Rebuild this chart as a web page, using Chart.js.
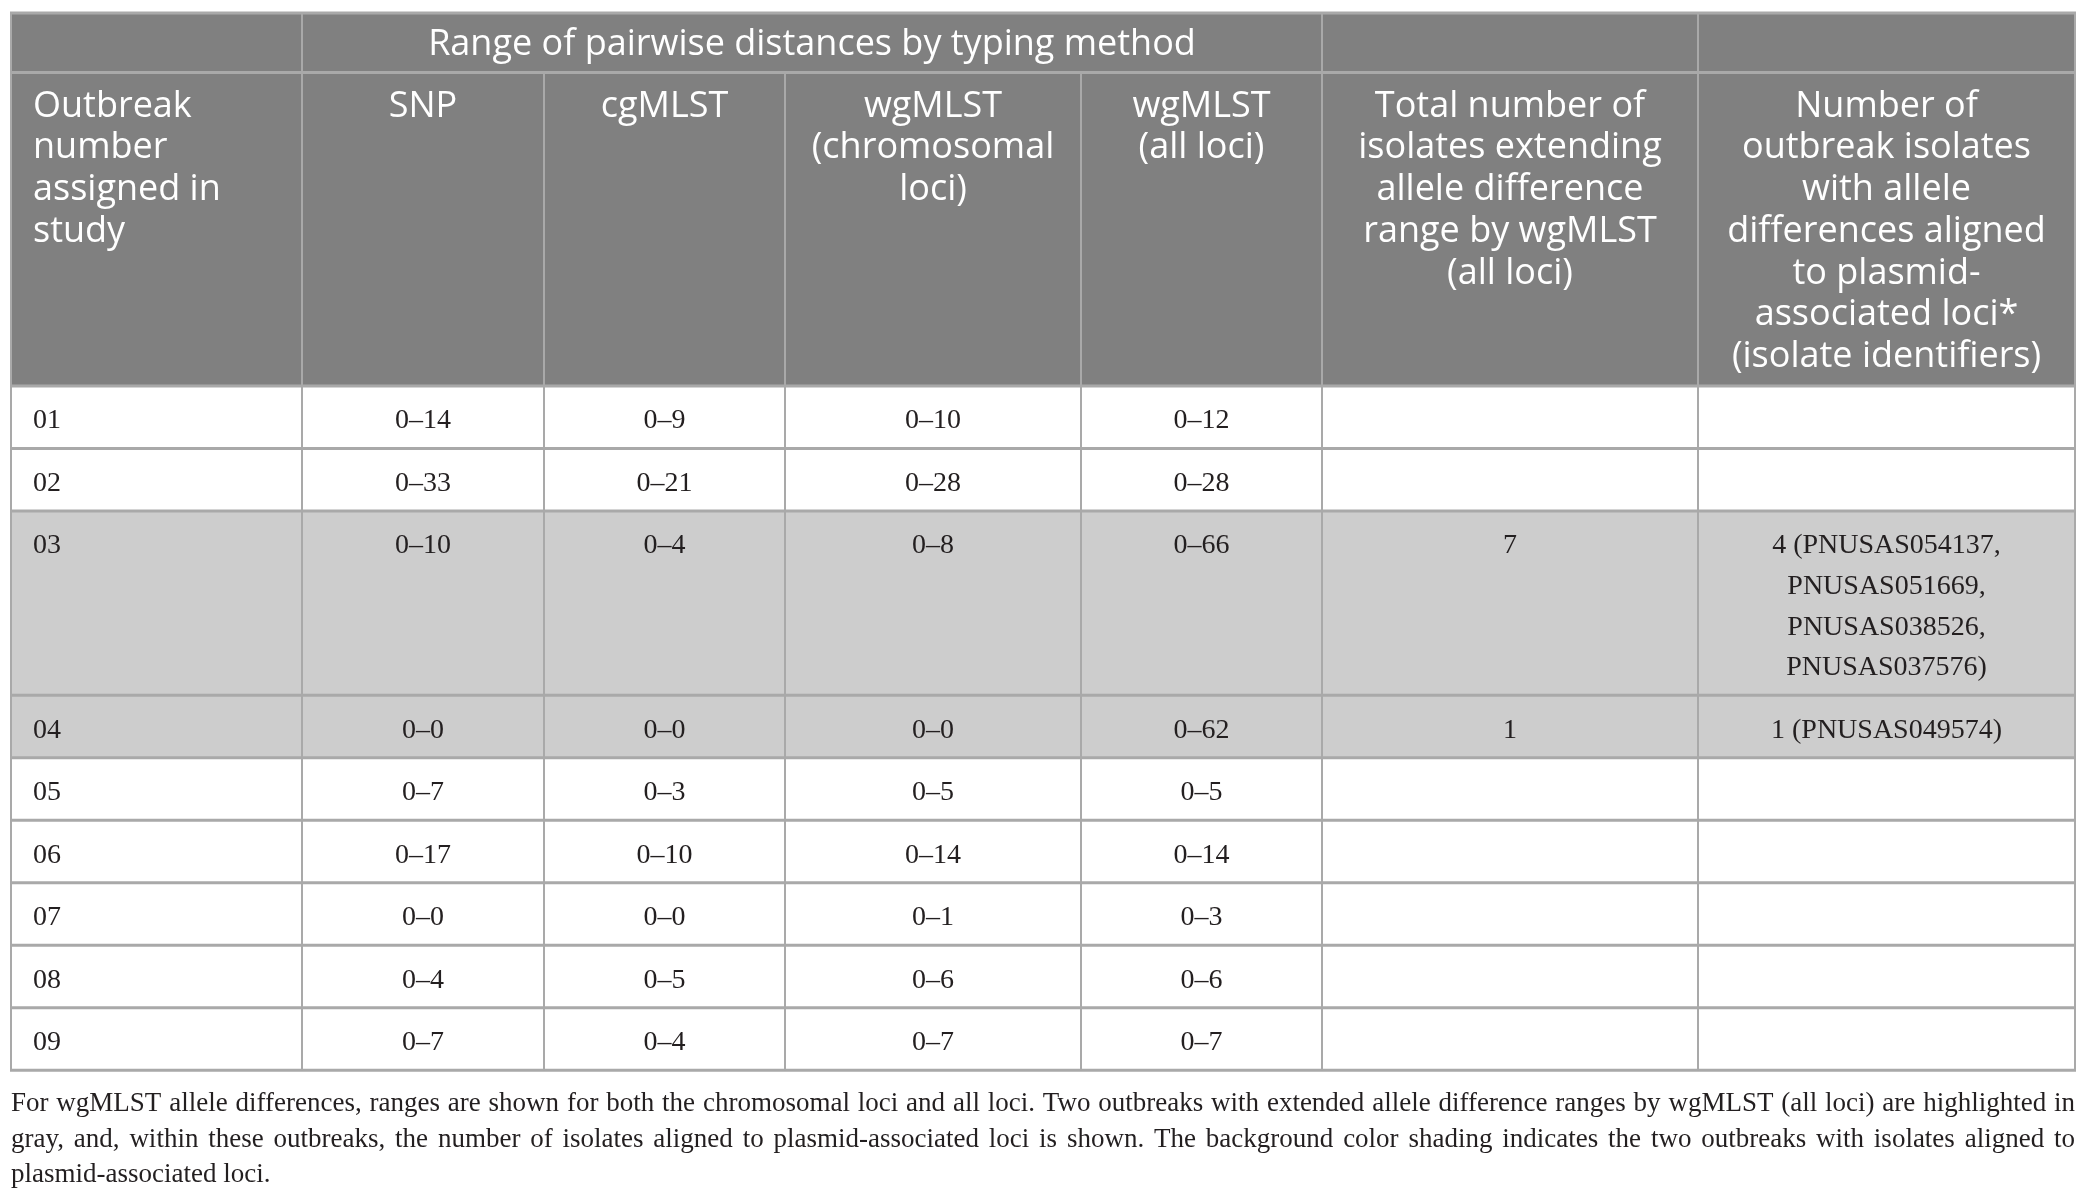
<!DOCTYPE html>
<html><head><meta charset="utf-8">
<script src="https://cdn.jsdelivr.net/npm/chart.js@4.4.1/dist/chart.umd.min.js"></script>
<style>html,body{margin:0;padding:0;background:#fff;overflow:hidden}canvas{display:block}</style>
</head><body>
<canvas id="c" width="2087" height="1204"></canvas>
<script>
// ---------- DATA ----------
const groupHeader = 'Range of pairwise distances by typing method';
const groupSpan = [1, 4, 1, 1];
const columnHeaders = [
  ['Outbreak', 'number', 'assigned in', 'study'],
  ['SNP'],
  ['cgMLST'],
  ['wgMLST', '(chromosomal', 'loci)'],
  ['wgMLST', '(all loci)'],
  ['Total number of', 'isolates extending', 'allele difference', 'range by wgMLST', '(all loci)'],
  ['Number of', 'outbreak isolates', 'with allele', 'differences aligned', 'to plasmid-', 'associated loci*', '(isolate identifiers)']
];
const outbreakNumbers = ['01', '02', '03', '04', '05', '06', '07', '08', '09'];
const snpRange = ['0–14', '0–33', '0–10', '0–0', '0–7', '0–17', '0–0', '0–4', '0–7'];
const cgmlstRange = ['0–9', '0–21', '0–4', '0–0', '0–3', '0–10', '0–0', '0–5', '0–4'];
const wgmlstChromRange = ['0–10', '0–28', '0–8', '0–0', '0–5', '0–14', '0–1', '0–6', '0–7'];
const wgmlstAllRange = ['0–12', '0–28', '0–66', '0–62', '0–5', '0–14', '0–3', '0–6', '0–7'];
const totalExtending = ['', '', '7', '1', '', '', '', '', ''];
const plasmidIsolates = [
  [], [],
  ['4 (PNUSAS054137,', 'PNUSAS051669,', 'PNUSAS038526,', 'PNUSAS037576)'],
  ['1 (PNUSAS049574)'],
  [], [], [], [], []
];
const footnoteLines = [
  'For wgMLST allele differences, ranges are shown for both the chromosomal loci and all loci. Two outbreaks with extended allele difference ranges by wgMLST (all loci) are highlighted in',
  'gray, and, within these outbreaks, the number of isolates aligned to plasmid-associated loci is shown. The background color shading indicates the two outbreaks with isolates aligned to',
  'plasmid-associated loci.'
];

// ---------- LAYOUT / STYLE ----------
const colWidths = [291, 242, 241, 296, 241, 376, 377];
const headTopH = 59.5, headH = 313.5, rowBaseH = 62.5, rowLineH = 40.6;
const headLineH = 41.7;
const headFont = '36px "Open Sans", "Noto Sans", sans-serif';
const bodyFont = '28px "Liberation Serif"';
const noteFont = '27px "Liberation Serif"';
const headBg = '#808080', shadeBg = '#cdcdcd', lineCol = '#a9a9a9';
const textCol = '#231f20';

const tableRows = outbreakNumbers.map((o, i) => [
  [o], [snpRange[i]], [cgmlstRange[i]], [wgmlstChromRange[i]], [wgmlstAllRange[i]],
  totalExtending[i] ? [totalExtending[i]] : [], plasmidIsolates[i]
]);
const rowHeights = tableRows.map(r => rowBaseH + (Math.max(1, ...r.map(c => c.length)) - 1) * rowLineH);
const totalW = colWidths.reduce((a, b) => a + b, 0);
const totalH = headTopH + headH + rowHeights.reduce((a, b) => a + b, 0);
const colEdges = colWidths.reduce((acc, w) => (acc.push(acc[acc.length - 1] + w), acc), [0]);

const tablePlugin = {
  id: 'tablePlugin',
  afterDraw(chart) {
    const ctx = chart.ctx, xs = chart.scales.x, ys = chart.scales.y;
    const px = v => xs.getPixelForValue(v), py = v => ys.getPixelForValue(v);
    ctx.save();
    ctx.fillStyle = headBg;
    ctx.fillRect(px(0), py(0), px(totalW) - px(0), py(headTopH + headH) - py(0));
    let y = headTopH + headH;
    const rowTops = [];
    tableRows.forEach((r, i) => {
      rowTops.push(y);
      if (totalExtending[i]) {
        ctx.fillStyle = shadeBg;
        ctx.fillRect(px(0), py(y), px(totalW) - px(0), py(y + rowHeights[i]) - py(y));
      }
      y += rowHeights[i];
    });
    ctx.strokeStyle = lineCol;
    const hline = (yv, w) => { ctx.lineWidth = w; ctx.beginPath(); ctx.moveTo(px(0) - 1, py(yv)); ctx.lineTo(px(totalW) + 1, py(yv)); ctx.stroke(); };
    const vline = (xv, y0, y1) => { ctx.lineWidth = 2; ctx.beginPath(); ctx.moveTo(px(xv), py(y0)); ctx.lineTo(px(xv), py(y1)); ctx.stroke(); };
    hline(0, 3);
    hline(headTopH, 3);
    hline(headTopH + headH, 3);
    rowTops.forEach((t, i) => { if (i > 0) hline(t, 3); });
    hline(totalH, 3);
    let ci = 0;
    vline(0, 0, totalH);
    groupSpan.forEach(s => { ci += s; vline(colEdges[ci], 0, headTopH); });
    for (let c = 1; c <= colWidths.length; c++) vline(colEdges[c], headTopH, totalH);
    // header text
    ctx.fillStyle = '#ffffff';
    ctx.font = headFont;
    ctx.textBaseline = 'middle';
    ctx.textAlign = 'center';
    ci = 0;
    groupSpan.forEach((s, k) => {
      if (k === 1) ctx.fillText(groupHeader, (px(colEdges[ci]) + px(colEdges[ci + s])) / 2, py(headTopH / 2 + 2));
      ci += s;
    });
    columnHeaders.forEach((lines, c) => {
      lines.forEach((ln, j) => {
        const yy = py(headTopH + 34 + j * headLineH);
        if (c === 0) { ctx.textAlign = 'left'; ctx.fillText(ln, px(colEdges[c] + 22), yy); }
        else { ctx.textAlign = 'center'; ctx.fillText(ln, (px(colEdges[c]) + px(colEdges[c + 1])) / 2, yy); }
      });
    });
    // body text
    ctx.fillStyle = textCol;
    ctx.font = bodyFont;
    tableRows.forEach((r, i) => {
      r.forEach((cell, c) => {
        cell.forEach((ln, j) => {
          const yy = py(rowTops[i] + 35 + j * rowLineH);
          if (c === 0) { ctx.textAlign = 'left'; ctx.fillText(ln, px(colEdges[c] + 22), yy); }
          else { ctx.textAlign = 'center'; ctx.fillText(ln, (px(colEdges[c]) + px(colEdges[c + 1])) / 2, yy); }
        });
      });
    });
    // footnote (justified)
    ctx.font = noteFont;
    ctx.fillStyle = '#231f20';
    ctx.textAlign = 'left';
    const left = px(0), right = px(totalW);
    footnoteLines.forEach((ln, j) => {
      const yy = py(totalH + 34 + j * 35.5);
      if (j === footnoteLines.length - 1) { ctx.fillText(ln, left, yy); return; }
      const words = ln.split(' ');
      const ws = words.map(w => ctx.measureText(w).width);
      const gap = (right - left - ws.reduce((a, b) => a + b, 0)) / (words.length - 1);
      let x = left;
      words.forEach((w, k) => { ctx.fillText(w, x, yy); x += ws[k] + gap; });
    });
    ctx.restore();
  }
};

new Chart(document.getElementById('c'), {
  type: 'scatter',
  data: { datasets: [{ data: [], showLine: false }] },
  options: {
    responsive: false,
    animation: false,
    devicePixelRatio: 1,
    layout: { padding: { left: 11, top: 13, right: 2087 - 11 - totalW, bottom: 1204 - 13 - totalH } },
    plugins: { legend: { display: false }, tooltip: { enabled: false } },
    scales: {
      x: { type: 'linear', min: 0, max: totalW, display: false },
      y: { type: 'linear', min: 0, max: totalH, reverse: true, display: false }
    }
  },
  plugins: [tablePlugin]
});
</script>
</body></html>
